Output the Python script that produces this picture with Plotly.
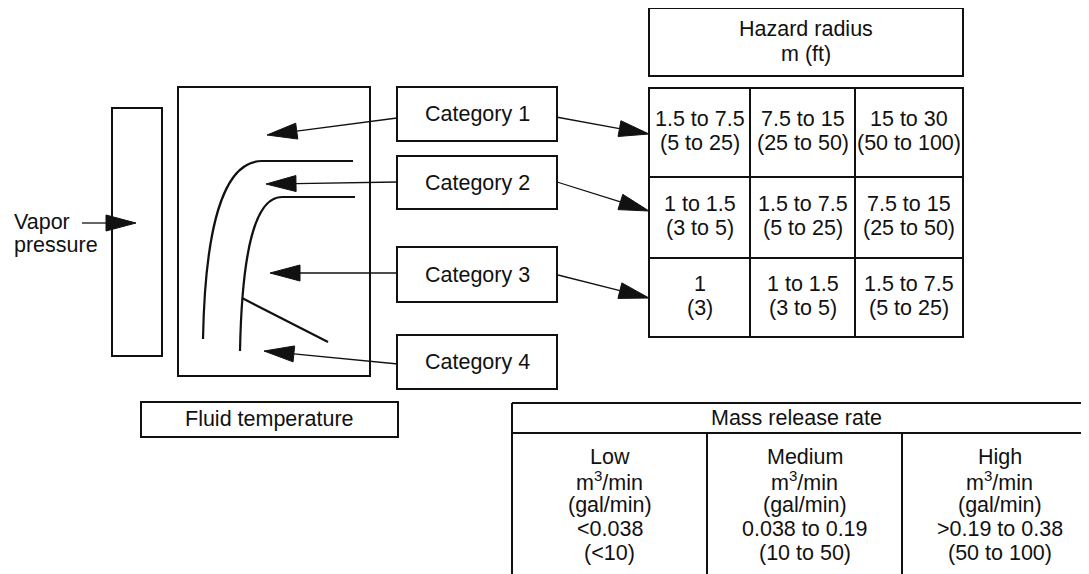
import plotly.graph_objects as go

# text content of the diagram
vapor_label = ["Vapor", "pressure"]
fluid_label = "Fluid temperature"
categories = ["Category 1", "Category 2", "Category 3", "Category 4"]
hazard_header = ["Hazard radius", "m (ft)"]
radius_m = [["1.5 to 7.5", "7.5 to 15", "15 to 30"],
            ["1 to 1.5", "1.5 to 7.5", "7.5 to 15"],
            ["1", "1 to 1.5", "1.5 to 7.5"]]
radius_ft = [["(5 to 25)", "(25 to 50)", "(50 to 100)"],
             ["(3 to 5)", "(5 to 25)", "(25 to 50)"],
             ["(3)", "(3 to 5)", "(5 to 25)"]]
release_title = "Mass release rate"
release_levels = ["Low", "Medium", "High"]
release_unit = ["m<sup>3</sup>/min", "(gal/min)"]
release_m3 = ["&lt;0.038", "0.038 to 0.19", "&gt;0.19 to 0.38"]
release_gal = ["(&lt;10)", "(10 to 50)", "(50 to 100)"]

INK = "#111111"
FONT = dict(family="Arial, 'Liberation Sans', sans-serif", size=21.5, color=INK)

# page body has an 8px margin, so the canvas is offset by 8px
OFF = 8
W, H = 1089, 574

fig = go.Figure()
fig.add_trace(go.Scatter(x=[OFF, W], y=[OFF, H], mode="markers",
                         marker=dict(opacity=0), hoverinfo="skip", showlegend=False))


def box(x0, y0, x1, y1, w=2):
    fig.add_shape(type="rect", x0=x0, y0=y0, x1=x1, y1=y1,
                  line=dict(color=INK, width=w), xref="x", yref="y")


def seg(x0, y0, x1, y1, w=2):
    fig.add_shape(type="line", x0=x0, y0=y0, x1=x1, y1=y1,
                  line=dict(color=INK, width=w), xref="x", yref="y")


def label(x, y, s, anchor="center"):
    fig.add_annotation(x=x, y=y, text=s, showarrow=False, xref="x", yref="y",
                       xanchor=anchor, yanchor="middle", font=FONT)


def arrow(x0, y0, x1, y1, head=30, half=8):
    dx, dy = x1 - x0, y1 - y0
    n = (dx * dx + dy * dy) ** 0.5
    ux, uy = dx / n, dy / n
    bx, by = x1 - head * ux, y1 - head * uy
    seg(x0, y0, bx, by, w=1.3)
    p1 = (bx - half * uy, by + half * ux)
    p2 = (bx + half * uy, by - half * ux)
    fig.add_shape(type="path", xref="x", yref="y",
                  path=f"M {x1},{y1} L {p1[0]},{p1[1]} L {p2[0]},{p2[1]} Z",
                  fillcolor=INK, line=dict(color=INK, width=1))


# vapor pressure bar and label
box(112, 108, 162, 356)
label(12, 222, vapor_label[0], "left")
label(12, 245, vapor_label[1], "left")
arrow(82, 223, 136, 223)

# fluid-temperature chart
box(178, 87, 370, 376)
fig.add_shape(type="path", xref="x", yref="y", line=dict(color=INK, width=2.2),
              path="M 203,339 C 205,232 222,161 262,161 L 353,161")
fig.add_shape(type="path", xref="x", yref="y", line=dict(color=INK, width=2.2),
              path="M 240,351 C 242,250 255,197 282,197 L 355,197")
seg(242, 298, 328, 342, w=2.2)
box(141, 402, 398, 437)
label(269, 419, fluid_label)

# category boxes
cat_top = [87, 156, 247, 335]
cat_bot = [141, 209, 302, 389]
for i, name in enumerate(categories):
    box(397, cat_top[i], 557, cat_bot[i])
    label(477, (cat_top[i] + cat_bot[i]) / 2, name)

# arrows into the chart
arrow(397, 118, 267, 135)
arrow(397, 182, 266, 184)
arrow(398, 273, 270, 273)
arrow(398, 364, 264, 351)

# arrows into the hazard grid
arrow(556, 117, 649, 134)
arrow(557, 182, 649, 211)
arrow(558, 275, 649, 298)

# hazard radius header and grid
box(649, 8, 963, 76)
label(806, 29, hazard_header[0])
label(806, 54, hazard_header[1])

col_edges = [649, 750, 855, 963]
row_edges = [88, 177, 258, 337]
box(col_edges[0], row_edges[0], col_edges[-1], row_edges[-1])
for x in col_edges[1:-1]:
    seg(x, row_edges[0], x, row_edges[-1])
for y in row_edges[1:-1]:
    seg(col_edges[0], y, col_edges[-1], y)
for r in range(3):
    cy = (row_edges[r] + row_edges[r + 1]) / 2 - 1.5
    for c in range(3):
        cx = (col_edges[c] + col_edges[c + 1]) / 2
        label(cx, cy - 12, radius_m[r][c])
        label(cx, cy + 12, radius_ft[r][c])

# mass release rate table (runs off the right edge of the page)
rel_cols = [512, 707, 902, 1097]
right = 1140
seg(rel_cols[0], 403, right, 403)
seg(rel_cols[0], 433, right, 433)
for x in rel_cols[:-1]:
    seg(x, 403 if x == rel_cols[0] else 433, x, 600)
label(796, 418, release_title)
for c in range(3):
    cx = (rel_cols[c] + rel_cols[c + 1]) / 2
    lines = [release_levels[c], release_unit[0], release_unit[1], release_m3[c], release_gal[c]]
    for k, s in enumerate(lines):
        label(cx, 457 + 24 * k, s)

fig.update_layout(
    width=W - OFF, height=H - OFF,
    margin=dict(l=0, r=0, t=0, b=0),
    plot_bgcolor="white", paper_bgcolor="white",
    xaxis=dict(range=[OFF, W], visible=False, fixedrange=True),
    yaxis=dict(range=[H, OFF], visible=False, fixedrange=True),
    showlegend=False,
)

fig.write_html("out.html")
